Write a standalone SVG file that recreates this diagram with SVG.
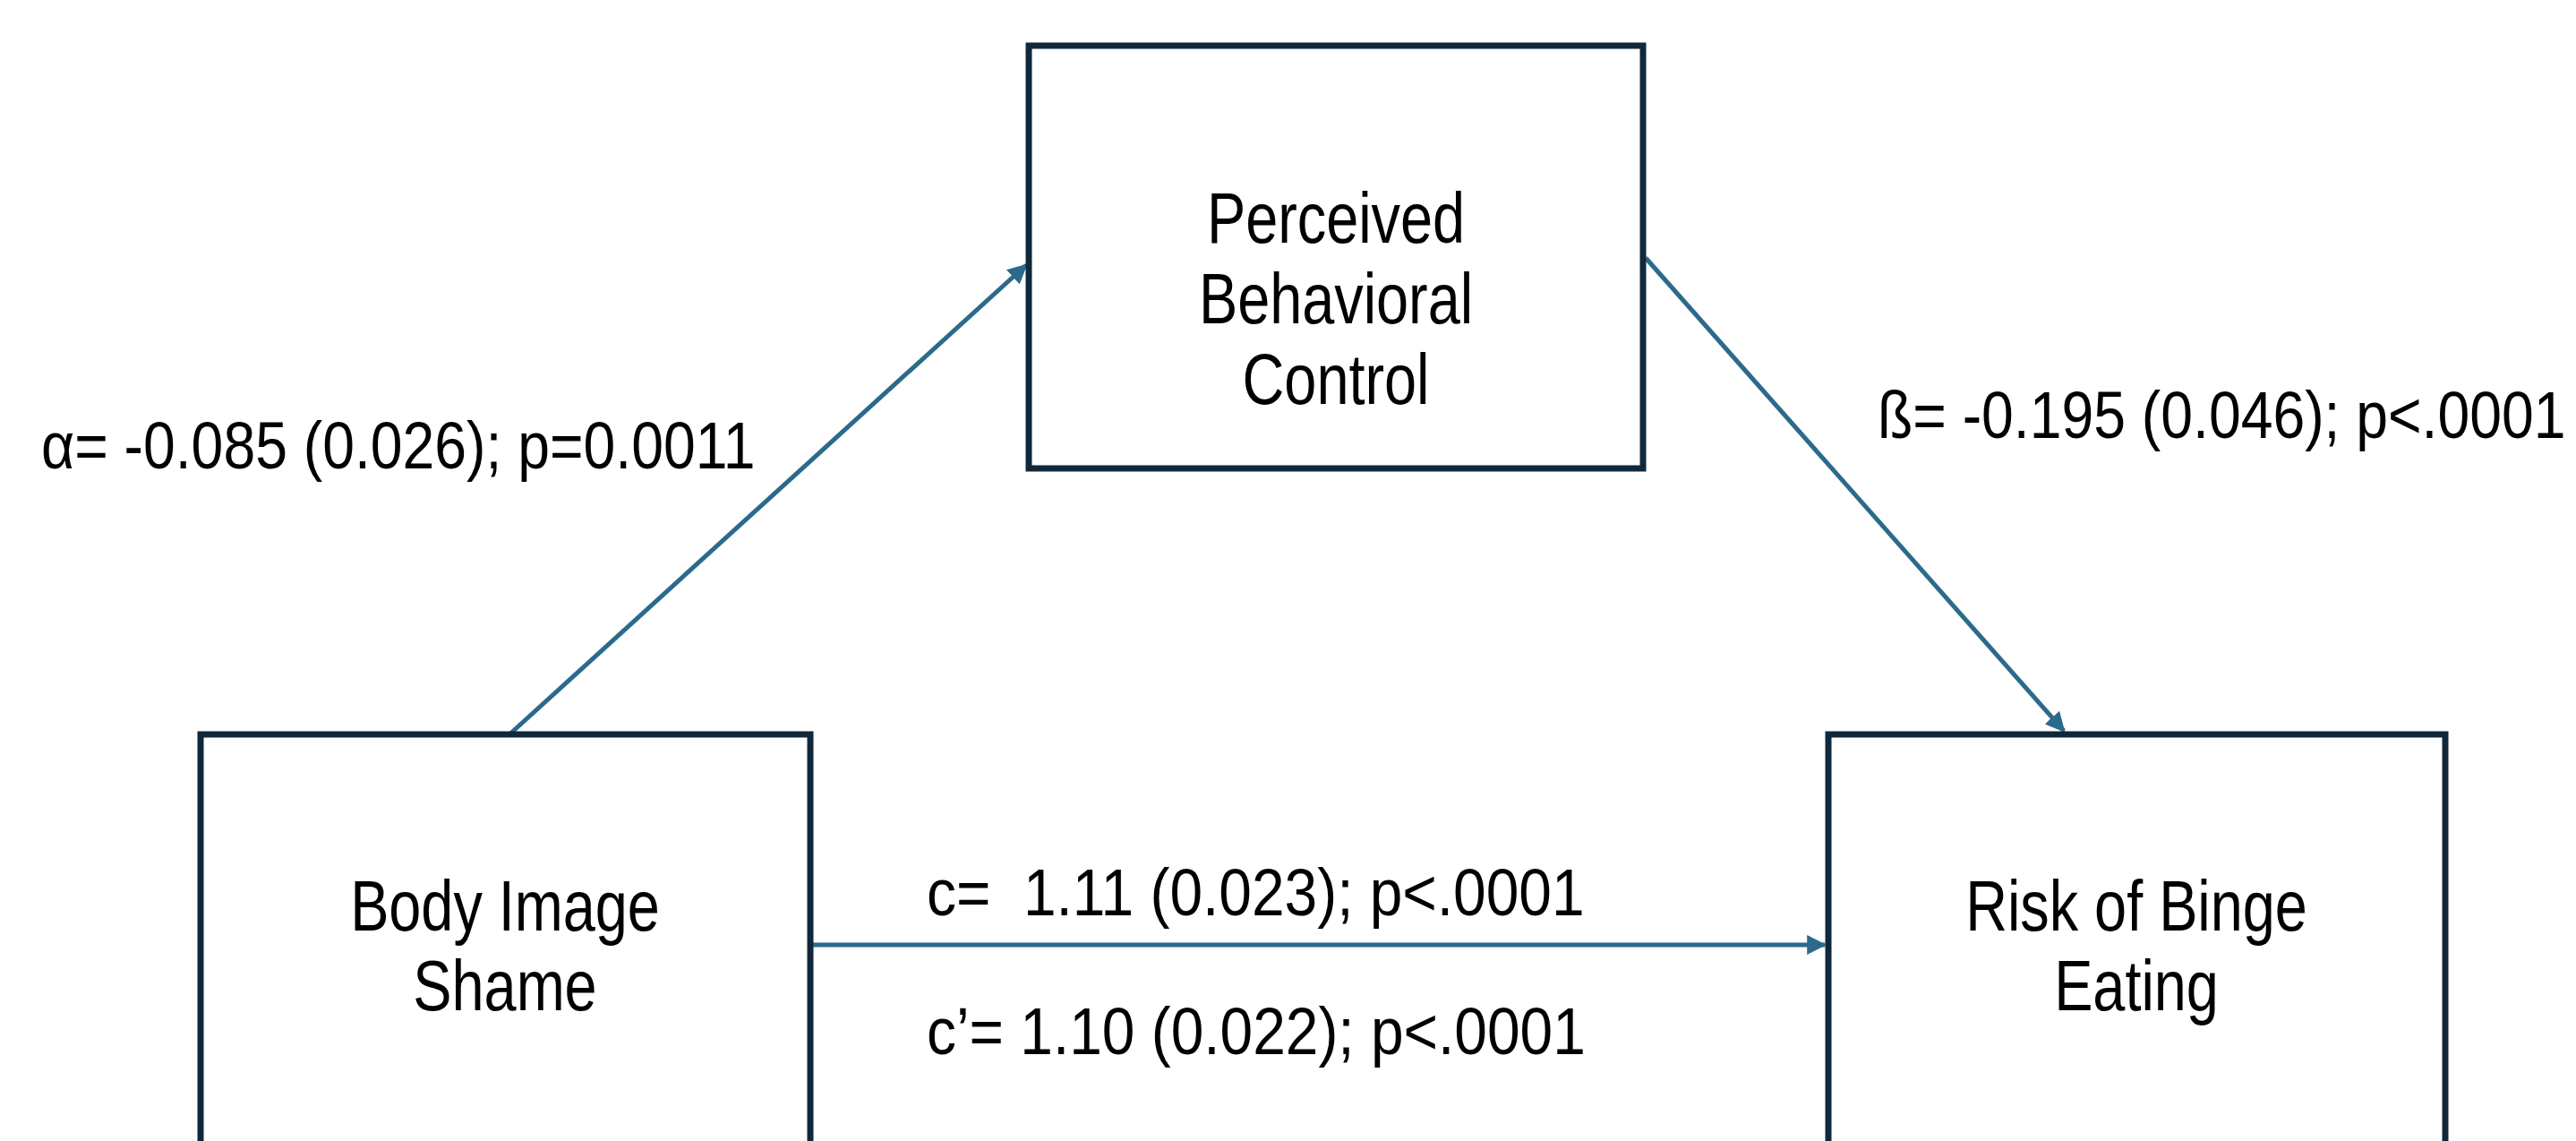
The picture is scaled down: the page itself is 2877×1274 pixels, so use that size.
<svg xmlns="http://www.w3.org/2000/svg" width="2877" height="1274" viewBox="0 0 2877 1274">
<style>
.box{fill:#ffffff;stroke:#11283a;stroke-width:7}
.t{font-family:"Liberation Sans",Arial,sans-serif;font-size:80px;fill:#000;text-anchor:middle}
.lbl{font-family:"Liberation Sans",Arial,sans-serif;font-size:74px;fill:#000}
.edge{stroke:#2c6a8b;stroke-width:5;fill:none;marker-end:url(#ah)}
</style>
<defs>
<marker id="ah" viewBox="0 0 10 10" refX="9" refY="5" markerWidth="4.4" markerHeight="4.4" orient="auto" markerUnits="strokeWidth">
<path d="M0,0 L10,5 L0,10 Z" fill="#2c6a8b"/>
</marker>
</defs>
<rect width="2877" height="1274" fill="#ffffff"/>
<g id="edges">
<line class="edge" x1="569" y1="820" x2="1146" y2="296"/>
<line class="edge" x1="1838" y1="288" x2="2305" y2="816"/>
<line class="edge" x1="908" y1="1055" x2="2038" y2="1055"/>
</g>
<g id="node-pbc">
<rect class="box" x="1149" y="51" width="686" height="472"/>
<text class="t" transform="translate(1492,271) scale(0.81,1)">Perceived</text>
<text class="t" transform="translate(1492,361) scale(0.81,1)">Behavioral</text>
<text class="t" transform="translate(1492,451) scale(0.81,1)">Control</text>
</g>
<g id="node-bis">
<rect class="box" x="224" y="820" width="681" height="500"/>
<text class="t" transform="translate(564,1039) scale(0.81,1)">Body Image</text>
<text class="t" transform="translate(564,1128) scale(0.81,1)">Shame</text>
</g>
<g id="node-rbe">
<rect class="box" x="2042" y="820" width="689" height="500"/>
<text class="t" transform="translate(2386,1039) scale(0.81,1)">Risk of Binge</text>
<text class="t" transform="translate(2386,1128) scale(0.81,1)">Eating</text>
</g>
<g id="labels">
<text class="lbl" transform="translate(46,523) scale(0.869,1)">α= -0.085 (0.026); p=0.0011</text>
<text class="lbl" transform="translate(2097,489) scale(0.869,1)">ß= -0.195 (0.046); p&lt;.0001</text>
<text class="lbl" transform="translate(1035,1022) scale(0.89,1)" xml:space="preserve">c=  1.11 (0.023); p&lt;.0001</text>
<text class="lbl" transform="translate(1035,1177) scale(0.89,1)">c’= 1.10 (0.022); p&lt;.0001</text>
</g>
</svg>
